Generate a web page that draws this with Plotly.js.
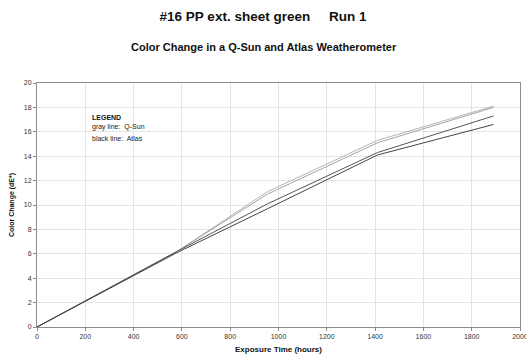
<!DOCTYPE html>
<html><head><meta charset="utf-8">
<script src="https://cdn.plot.ly/plotly-3.0.1.min.js"></script>
<style>html,body{margin:0;padding:0;background:#fff;}#chart{width:526px;height:360px;}</style>
</head><body><div id="chart"></div>
<script>
var hours = [0, 580, 955, 1410, 1890];
var qsun1 = [0, 6.2, 11.1, 15.3, 18.1];
var qsun2 = [0, 6.2, 10.9, 15.1, 18.0];
var atlas1 = [0, 6.2, 10.1, 14.3, 17.3];
var atlas2 = [0, 6.1, 9.7, 14.1, 16.6];
var xTicks = [0, 200, 400, 600, 800, 1000, 1200, 1400, 1600, 1800, 2000];
var yTicks = [0, 2, 4, 6, 8, 10, 12, 14, 16, 18, 20];

function tr(y, color) {
  return {x: hours, y: y, type: 'scatter', mode: 'lines', line: {color: color, width: 1}, hoverinfo: 'skip'};
}
var data = [tr(qsun1, '#b4b4b4'), tr(qsun2, '#a4a4a4'), tr(atlas1, '#555555'), tr(atlas2, '#444444')];

var F = 'Arial, Liberation Sans, sans-serif';
var axisCommon = {
  showline: true, mirror: true, linecolor: '#8c8c8c', linewidth: 1,
  showgrid: true, gridcolor: '#e4e4e4', gridwidth: 1, zeroline: false,
  ticks: 'outside', ticklen: 3, tickcolor: '#8c8c8c', ticklabeloverflow: 'allow',
  tickfont: {family: F, size: 7, color: '#333'}
};
var layout = {
  width: 526, height: 360,
  margin: {l: 37, r: 6, t: 83, b: 33},
  paper_bgcolor: '#fff', plot_bgcolor: '#fff',
  showlegend: false,
  title: {text: '<b>#16 PP ext. sheet green&nbsp;&nbsp;&nbsp;&nbsp;&nbsp;Run 1</b>', xref: 'container', x: 0.5, xanchor: 'center', y: 0.955, yanchor: 'middle',
          font: {family: F, size: 13.5, color: '#111'}},
  xaxis: Object.assign({}, axisCommon, {range: [0, 2000], tickvals: xTicks, ticktext: xTicks.map(String),
    title: {text: '<b>Exposure Time (hours)</b>', standoff: 6, font: {family: F, size: 8, color: '#111'}}}),
  yaxis: Object.assign({}, axisCommon, {range: [0, 20], tickvals: yTicks, ticktext: yTicks.map(String),
    title: {text: '<b>Color Change (dE*)</b>', standoff: 8, font: {family: F, size: 7, color: '#111'}}}),
  annotations: [
    {text: '<b>Color Change in a Q-Sun and Atlas Weatherometer</b>', xref: 'paper', yref: 'paper', x: (264-37)/483, y: 1, xanchor: 'center', yanchor: 'middle',
     yshift: 36, showarrow: false, font: {family: F, size: 11, color: '#111'}},
    {text: '<b>LEGEND</b>', xref: 'paper', yref: 'paper', x: (90-37)/483, y: (327-117)/244, xanchor: 'left', yanchor: 'middle', showarrow: false,
     font: {family: F, size: 7, color: '#111'}},
    {text: 'gray line:  Q-Sun', xref: 'paper', yref: 'paper', x: (90-37)/483, y: (327-127.5)/244, xanchor: 'left', yanchor: 'middle', showarrow: false,
     font: {family: F, size: 7, color: '#222'}},
    {text: 'black line:  Atlas', xref: 'paper', yref: 'paper', x: (90-37)/483, y: (327-138.5)/244, xanchor: 'left', yanchor: 'middle', showarrow: false,
     font: {family: F, size: 7, color: '#222'}}
  ]
};
Plotly.newPlot('chart', data, layout, {displayModeBar: false, staticPlot: true});
</script></body></html>
